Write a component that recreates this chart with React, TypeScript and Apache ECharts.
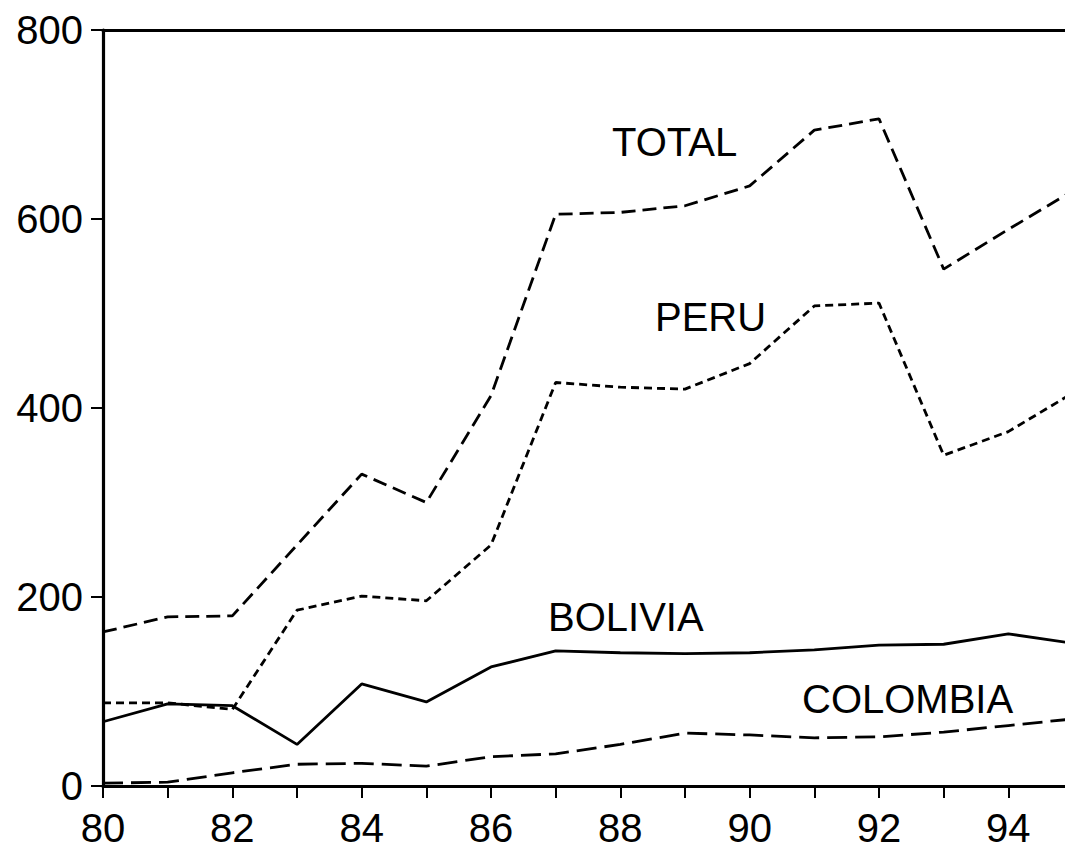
import React, { useEffect, useRef } from "react";
import * as echarts from "echarts";

const years = [80, 81, 82, 83, 84, 85, 86, 87, 88, 89, 90, 91, 92, 93, 94, 95];
const total = [163, 179, 180, 255, 330, 300, 413, 605, 607, 614, 635, 694, 706, 547, 589, 630];
const peru = [88, 88, 81, 186, 201, 196, 255, 427, 422, 420, 447, 508, 511, 350, 375, 416];
const bolivia = [68, 87, 85, 44, 108, 89, 126, 143, 141, 140, 141, 144, 149, 150, 161, 151];
const colombia = [3, 4, 14, 23, 24, 21, 31, 34, 44, 56, 54, 51, 52, 57, 64, 71];
const yTicks = [0, 200, 400, 600, 800];

const FONT = "'Liberation Sans', Arial, sans-serif";

function pairs(vals: number[]) {
  return years.map((y, i) => [y, vals[i]]);
}

export default function App() {
  const ref = useRef<HTMLDivElement>(null);
  useEffect(() => {
    const chart = echarts.init(ref.current!, undefined, { renderer: "svg" });
    const lineSeries = (name: string, vals: number[], type: any) => ({
      name,
      type: "line",
      xAxisIndex: 0,
      data: pairs(vals),
      symbol: "none",
      lineStyle: { color: "#000", width: 2.8, type },
      z: 3,
    });
    const labelStyle = (text: string) => ({
      text,
      fontSize: 40,
      fontFamily: FONT,
      fill: "#000",
    });
    chart.setOption({
      animation: false,
      backgroundColor: "#fff",
      grid: {
        left: 103,
        top: 30,
        width: 970,
        height: 756,
        show: false,
        containLabel: false,
        outerBoundsMode: "none",
      },
      xAxis: [
        {
          type: "value",
          min: 80,
          max: 95,
          interval: 1,
          axisLine: { show: true, onZero: false, lineStyle: { color: "#000", width: 3.2 } },
          axisTick: { show: true, inside: false, length: 12, lineStyle: { color: "#000", width: 2 } },
          splitLine: { show: false },
          axisLabel: {
            color: "#000",
            fontSize: 40,
            fontFamily: FONT,
            margin: 22,
            formatter: (v: number) => (v % 2 === 0 && v < 95 ? String(v) : ""),
          },
        },
        {
          type: "value",
          position: "top",
          min: 80,
          max: 95,
          interval: 1,
          axisLine: { show: true, onZero: false, lineStyle: { color: "#000", width: 3.2 } },
          axisTick: { show: false },
          axisLabel: { show: false },
          splitLine: { show: false },
        },
      ],
      yAxis: {
        type: "value",
        min: yTicks[0],
        max: yTicks[yTicks.length - 1],
        interval: 200,
        axisLine: { show: true, lineStyle: { color: "#000", width: 3.2 } },
        axisTick: { show: true, inside: false, length: 12, lineStyle: { color: "#000", width: 2 } },
        splitLine: { show: false },
        axisLabel: {
          color: "#000",
          fontSize: 40,
          fontFamily: FONT,
          margin: 20,
        },
      },
      series: [
        lineSeries("TOTAL", total, [14, 7]),
        lineSeries("PERU", peru, [8, 5]),
        lineSeries("BOLIVIA", bolivia, "solid"),
        lineSeries("COLOMBIA", colombia, [20, 8]),
      ],
      graphic: [
        { type: "text", left: 612, top: 122, style: labelStyle("TOTAL") },
        { type: "text", left: 655, top: 297, style: labelStyle("PERU") },
        { type: "text", left: 548, top: 597, style: labelStyle("BOLIVIA") },
        { type: "text", left: 802, top: 679, style: labelStyle("COLOMBIA") },
      ],
    });
    return () => chart.dispose();
  }, []);
  return (
    <div
      ref={ref}
      style={{ position: "absolute", left: 0, top: 0, width: 1065, height: 849, background: "#fff" }}
    />
  );
}
